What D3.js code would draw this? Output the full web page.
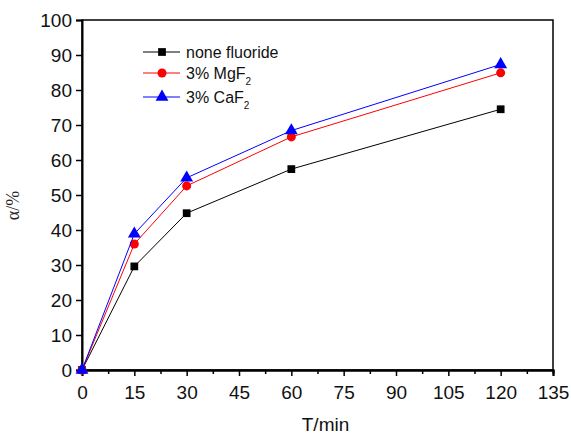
<!DOCTYPE html>
<html><head><meta charset="utf-8">
<script src="https://cdn.jsdelivr.net/npm/d3@7"></script>
<style>body{margin:0;background:#fff}svg{display:block}text{font-family:"Liberation Sans",Arial,sans-serif}</style>
</head><body>
<script>
const times = [0, 15, 30, 60, 120];
const noneFluoride = [0, 29.6, 44.8, 57.4, 74.5];
const mgF2 = [0, 36.0, 52.6, 66.6, 84.9];
const caF2 = [0, 38.9, 54.9, 68.4, 87.3];
const xTicks = [0, 15, 30, 45, 60, 75, 90, 105, 120, 135];
const yTicks = [0, 10, 20, 30, 40, 50, 60, 70, 80, 90, 100];
const seriesNames = ["none fluoride", "3% MgF", "3% CaF"];
const seriesSubs = ["", "2", "2"];
const seriesColors = ["#000000", "#ff0000", "#0000ff"];
const seriesShapes = [d3.symbolSquare, d3.symbolCircle, d3.symbolTriangle];
const seriesSizes = [60, 64, 72];

const W = 571, H = 435;
const m = {l: 82, r: 18, t: 20, b: 65};
const svg = d3.select("body").append("svg").attr("width", W).attr("height", H);
const x = d3.scaleLinear().domain([0, 135]).range([m.l, W - m.r]);
const y = d3.scaleLinear().domain([0, 100]).range([H - m.b, m.t]);

// frame
svg.append("rect").attr("x", x(0)).attr("y", y(100)).attr("width", x(135) - x(0)).attr("height", y(0) - y(100))
  .attr("fill", "none").attr("stroke", "#000").attr("stroke-width", 1.5);

const xAxis = svg.append("g").attr("transform", `translate(0,${y(0)})`)
  .call(d3.axisBottom(x).tickValues(xTicks).tickSize(6).tickPadding(10).tickFormat(d3.format("d")));
const xMinor = svg.append("g").attr("transform", `translate(0,${y(0)})`)
  .call(d3.axisBottom(x).tickValues(xTicks.slice(0, -1).map(v => v + 7.5)).tickSize(4).tickFormat(""));
const yAxis = svg.append("g").attr("transform", `translate(${x(0)},0)`)
  .call(d3.axisLeft(y).tickValues(yTicks).tickSize(6).tickPadding(4).tickFormat(d3.format("d")));
[xAxis, xMinor, yAxis].forEach(g => {
  g.select(".domain").attr("stroke-width", 2);
  g.selectAll(".tick line").attr("stroke-width", 1.5);
  g.selectAll("text").attr("font-size", 19).attr("fill", "#111").style("font-family", '"Liberation Sans",Arial,sans-serif');
});

svg.append("text").attr("x", (x(0) + x(135)) / 2 + 8).attr("y", H - 4).attr("text-anchor", "middle")
  .attr("font-size", 19).attr("fill", "#111").text("T/min");
svg.append("text").attr("transform", `translate(19,${y(47)}) rotate(-90)`).attr("text-anchor", "middle")
  .style("font-family", '"Liberation Serif","Times New Roman",serif').attr("font-size", 18).attr("fill", "#222").text("α/%");

const allSeries = [noneFluoride, mgF2, caF2];
const line = d3.line().x((d, i) => x(times[i])).y(d => y(d));
allSeries.forEach((vals, k) => {
  svg.append("path").datum(vals).attr("d", line).attr("fill", "none")
    .attr("stroke", seriesColors[k]).attr("stroke-width", 1);
  svg.selectAll(null).data(vals).enter().append("path")
    .attr("transform", (d, i) => `translate(${x(times[i])},${y(d)})`)
    .attr("d", d3.symbol().type(seriesShapes[k]).size(seriesSizes[k]))
    .attr("fill", seriesColors[k]);
});

// legend
const legY = [52, 73, 97];
allSeries.forEach((vals, k) => {
  const g = svg.append("g").attr("transform", `translate(143,${legY[k]})`);
  g.append("line").attr("x1", 0).attr("x2", 37).attr("stroke", seriesColors[k]).attr("stroke-width", 1);
  g.append("path").attr("transform", "translate(19,0)")
    .attr("d", d3.symbol().type(seriesShapes[k]).size(seriesSizes[k])).attr("fill", seriesColors[k]);
  const t = g.append("text").attr("x", 43).attr("y", 6).attr("font-size", 16).attr("fill", "#111").text(seriesNames[k]);
  if (seriesSubs[k]) t.append("tspan").attr("font-size", 10).attr("dy", 6).text(seriesSubs[k]);
});
</script>
</body></html>
